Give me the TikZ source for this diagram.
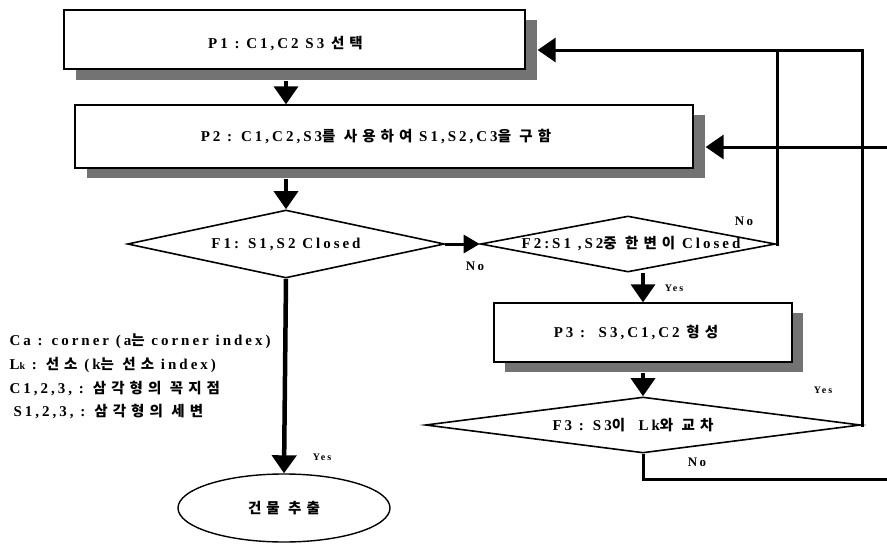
\documentclass[tikz,border=0pt]{standalone}
\usepackage{fontspec}
\setmainfont{Liberation Serif}[LetterSpace=20]
\newfontfamily\kr{Noto Sans CJK KR}[LetterSpace=35]
\usetikzlibrary{shapes.geometric,arrows.meta,calc}
\newcommand{\K}[1]{{\kr\bfseries\fontsize{14.5}{16}\selectfont #1}}
\definecolor{shadowgray}{gray}{0.45}
\begin{document}
\begin{tikzpicture}[x=1pt,y=-1pt,
  every node/.style={font=\bfseries\fontsize{15}{17}\selectfont},
  procbox/.style={draw, line width=1.3pt, fill=white, rectangle, inner sep=0pt},
  decision/.style={draw, line width=1.6pt, fill=white, diamond, inner sep=0pt, aspect=1},
  term/.style={draw, line width=1.4pt, fill=white, ellipse, inner sep=0pt},
  conn/.style={line width=3pt},
  bigarrow/.style={line width=3.5pt, -{Triangle[width=24pt,length=18pt]}},
  midarrow/.style={line width=3pt, -{Triangle[width=18pt,length=16pt]}},
  lbl/.style={font=\bfseries\fontsize{13}{15}\selectfont},
  small/.style={font=\bfseries\fontsize{10}{12}\selectfont},
  legend/.style={anchor=west, font=\bfseries\fontsize{15}{17}\selectfont}]
\useasboundingbox (0,0) rectangle (887,544);
\clip (0,0) rectangle (887,544);

% shadows
\fill[shadowgray] (76,20) rectangle (537,80);
\fill[shadowgray] (87,115) rectangle (705,178);
\fill[shadowgray] (505,313) rectangle (803,372);

% process boxes
\node[procbox, minimum width=461pt, minimum height=59pt,
  label={[xshift=-9pt,yshift=-4pt]center:{P1 :\ C1,C2\ S3 \K{선택}}}] (p1) at (294.5,39.5) {};
\node[procbox, minimum width=618pt, minimum height=63pt,
  label={[xshift=-8pt]center:{P2 : C1,C2,S3\K{를 사용하여} S1,S2,C3\K{을 구함}}}] (p2) at (384,136.5) {};
\node[procbox, minimum width=298pt, minimum height=59pt,
  label={[xshift=-7pt]center:{P3 :\ \ S3,C1,C2 \K{형성}}}] (p3) at (643,332.5) {};

% decisions
\node[decision, minimum width=317pt, minimum height=68pt,
  label={center:{F1: S1,S2 Closed}}] (f1) at (286,244) {};
\node[decision, minimum width=295pt, minimum height=56pt,
  label={[xshift=3pt]center:{F2:S1 ,S2\K{중 한변이} Closed}}] (f2) at (628,244) {};
\node[decision, minimum width=435pt, minimum height=56pt,
  label={[xshift=-10pt]center:{F3 : S3\K{이}\ \ Lk\K{와 교차}}}] (f3) at (643,425) {};

% terminal
\node[term, minimum width=212pt, minimum height=68pt,
  label={center:{\K{건물 추출}}}] (end) at (284,508) {};

% connectors
\coordinate (p1in) at ($(p1.east)+(12,10.5)$);
\coordinate (p2in) at ($(p2.east)+(12,10.5)$);
\coordinate (loopA) at (777,50);
\coordinate (loopB) at (862,50);
\coordinate (nobot) at (643,479);
\coordinate (offR) at (900,479);
\coordinate (offRtop) at (900,147);

\draw[bigarrow] ([yshift=-11pt]p1.south -| f1.north) -- (p2.north -| f1.north);
\draw[bigarrow] ([yshift=-10pt]p2.south -| f1.north) -- (f1.north);
\draw[midarrow] (f1.east) -- (f2.west);
\draw[bigarrow, line width=4.5pt] (f1.south) -- (end.north);
\draw[bigarrow] ([xshift=15pt]f2.south) -- (p3.north);
\draw[bigarrow] ([yshift=-10pt]p3.south) -- (f3.north);

\draw[conn] (f2.east) -| (loopA);
\draw[bigarrow, line width=3pt] (f3.east) -| (loopB) -- (p1in);
\draw[bigarrow, line width=3pt] (f3.south) -- (nobot) -- (offR) -- (offRtop) -- (p2in);

% labels
\node[lbl] (noF1) at (475,266) {No};
\node[lbl] (noF2) at (744,221) {No};
\node[small] (yesF2) at (674,288) {Yes};
\node[small] (yesF3) at (823,390) {Yes};
\node[lbl] (noF3) at (697,462) {No};
\node[small] (yesF1) at (322,457) {Yes};

% legend
\node[legend] (lg1) at (6,341) {Ca : corner (a\K{는} corner index)};
\node[legend] (lg2) at (6,365) {L{\fontsize{10}{11}\selectfont k} : \K{선소} (k\K{는 선소} index)};
\node[legend] (lg3) at (6,388) {C1,2,3, : \K{삼각형의 꼭지점}};
\node[legend] (lg4) at (10,411) {S1,2,3, : \K{삼각형의 세변}};
\end{tikzpicture}
\end{document}
